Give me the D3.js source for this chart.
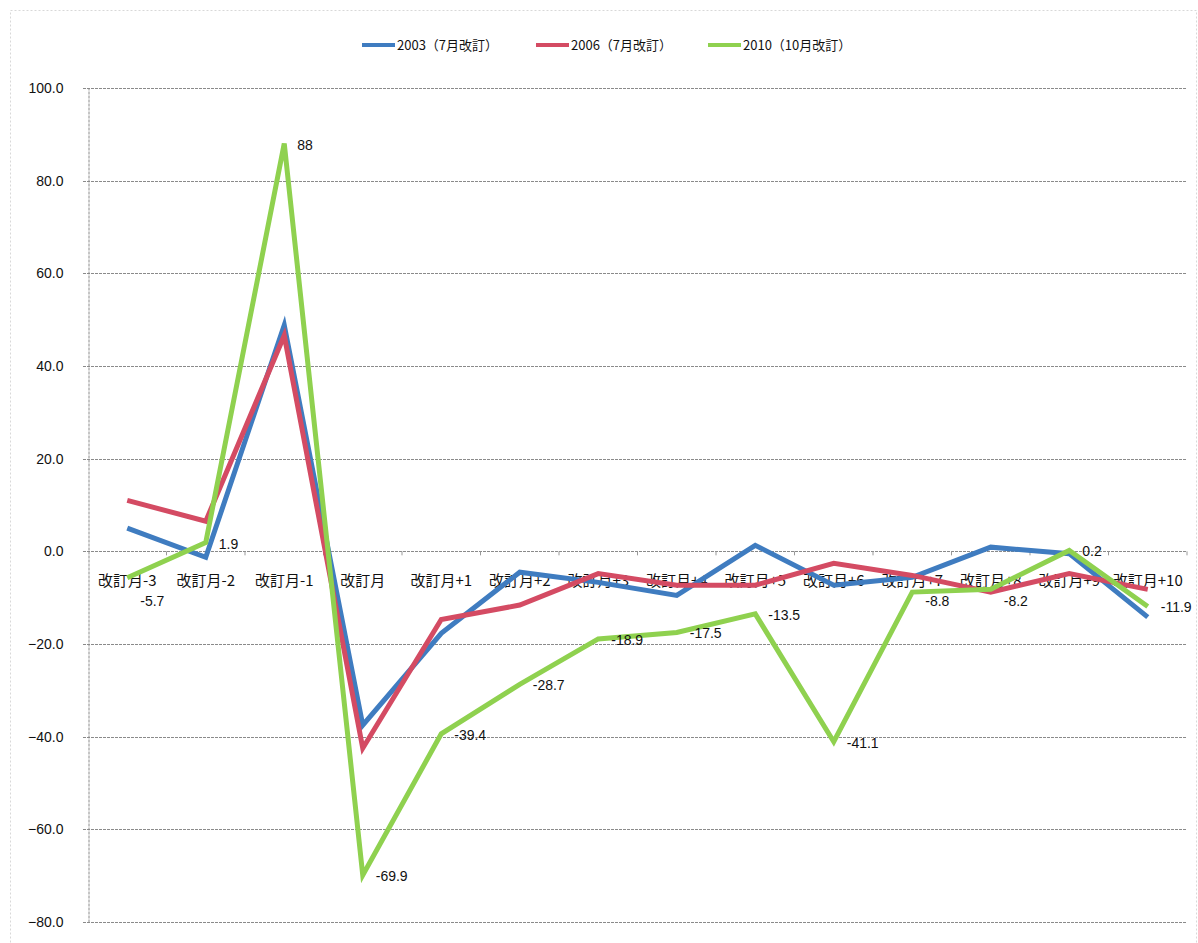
<!DOCTYPE html>
<html>
<head>
<meta charset="utf-8">
<script src="https://cdn.jsdelivr.net/npm/d3@7"></script>
<style>
  body { margin: 0; background: #fff; }
  text { font-family: "Noto Sans CJK JP", "Noto Sans", sans-serif; fill: #111; }
</style>
</head>
<body>
<svg id="chart" width="1198" height="943"></svg>
<script>
// categories and series
const categories = ["改訂月-3", "改訂月-2", "改訂月-1", "改訂月", "改訂月+1", "改訂月+2", "改訂月+3",
  "改訂月+4", "改訂月+5", "改訂月+6", "改訂月+7", "改訂月+8", "改訂月+9", "改訂月+10"];
const s2003 = [5.0, -1.3, 48.8, -37.5, -17.7, -4.5, -6.7, -9.5, 1.3, -7.3, -5.6, 0.9, -0.5, -14.2];
const s2006 = [11.0, 6.5, 46.6, -42.5, -14.7, -11.6, -4.8, -7.3, -7.3, -2.6, -5.2, -8.8, -4.8, -8.2];
const s2010 = [-5.7, 1.9, 88, -69.9, -39.4, -28.7, -18.9, -17.5, -13.5, -41.1, -8.8, -8.2, 0.2, -11.9];
const seriesNames = ["2003（7月改訂）", "2006（7月改訂）", "2010（10月改訂）"];
const colors = ["#3f7cc0", "#d44b63", "#8fd14f"];
const yTicks = [100, 80, 60, 40, 20, 0, -20, -40, -60, -80];

const svg = d3.select("#chart");
const plotL = 88, plotR = 1187, plotT = 88, plotB = 922;

// outer chart border
svg.append("rect")
  .attr("x", 10.5).attr("y", 10.5)
  .attr("width", 1186).attr("height", 940)
  .attr("fill", "none")
  .attr("stroke", "#d8d8d8")
  .attr("stroke-dasharray", "2,2");

const x = d3.scaleBand().domain(categories).range([plotL, plotR]);
const y = d3.scaleLinear().domain([-80, 100]).range([plotB, plotT]);

// gridlines
svg.append("g")
  .selectAll("line")
  .data(yTicks)
  .enter()
  .append("line")
  .attr("x1", plotL - 5).attr("x2", plotR)
  .attr("y1", d => Math.round(y(d)) + 0.5)
  .attr("y2", d => Math.round(y(d)) + 0.5)
  .attr("stroke", "#8a8a8a")
  .attr("stroke-width", 1.2)
  .attr("stroke-dasharray", "3,1");

// y axis
const yAxis = svg.append("g")
  .attr("transform", `translate(${plotL + 0.5},0)`)
  .call(d3.axisLeft(y).tickValues(yTicks).tickFormat(d3.format(".1f")).tickSize(0).tickPadding(25));
yAxis.select(".domain").attr("stroke", "#8a8a8a").attr("stroke-dasharray", "3,1");
yAxis.selectAll("text")
  .style("font-family", "'Liberation Sans', sans-serif")
  .style("font-size", "14px")
  .attr("fill", "#222");

// x axis on the zero line
const xAxis = svg.append("g")
  .attr("transform", `translate(0,${Math.round(y(0)) + 0.5})`)
  .call(d3.axisBottom(x).tickSize(0).tickPadding(24));
xAxis.select(".domain").remove();
xAxis.selectAll("text")
  .style("font-size", "15px")
  .attr("fill", "#111");

// small tick marks at category boundaries
svg.append("g")
  .selectAll("line")
  .data(categories)
  .enter()
  .append("line")
  .attr("x1", (d, i) => plotL + x.step() * (i + 1))
  .attr("x2", (d, i) => plotL + x.step() * (i + 1))
  .attr("y1", y(0)).attr("y2", y(0) + 4)
  .attr("stroke", "#999");

const line = d3.line()
  .x((d, i) => x(categories[i]) + x.bandwidth() / 2)
  .y(d => y(d));

[s2003, s2006, s2010].forEach((s, k) => {
  svg.append("path")
    .datum(s)
    .attr("d", line)
    .attr("fill", "none")
    .attr("stroke", colors[k])
    .attr("stroke-width", 5)
    .attr("stroke-linejoin", "miter");
});

// data labels for 2010 (the ones near the category row sit a little lower)
svg.append("g")
  .selectAll("text")
  .data(s2010)
  .enter()
  .append("text")
  .attr("x", (d, i) => x(categories[i]) + x.bandwidth() / 2 + 13)
  .attr("y", d => {
    const py = y(d) + 6;
    return (py > 570 && py < 600) ? 606 : py;
  })
  .style("font-size", "14px")
  .style("font-family", "'Liberation Sans', sans-serif")
  .text(d => d);

// legend
const legendX = [362, 536, 708];
const legend = svg.append("g")
  .selectAll("g")
  .data(seriesNames)
  .enter()
  .append("g")
  .attr("transform", (d, i) => `translate(${legendX[i]},45)`);
legend.append("line")
  .attr("x1", 0).attr("x2", 33)
  .attr("stroke", (d, i) => colors[i])
  .attr("stroke-width", 4);
legend.append("text")
  .attr("x", 35).attr("y", 5)
  .style("font-size", "13px")
  .text(d => d);
</script>
</body>
</html>
